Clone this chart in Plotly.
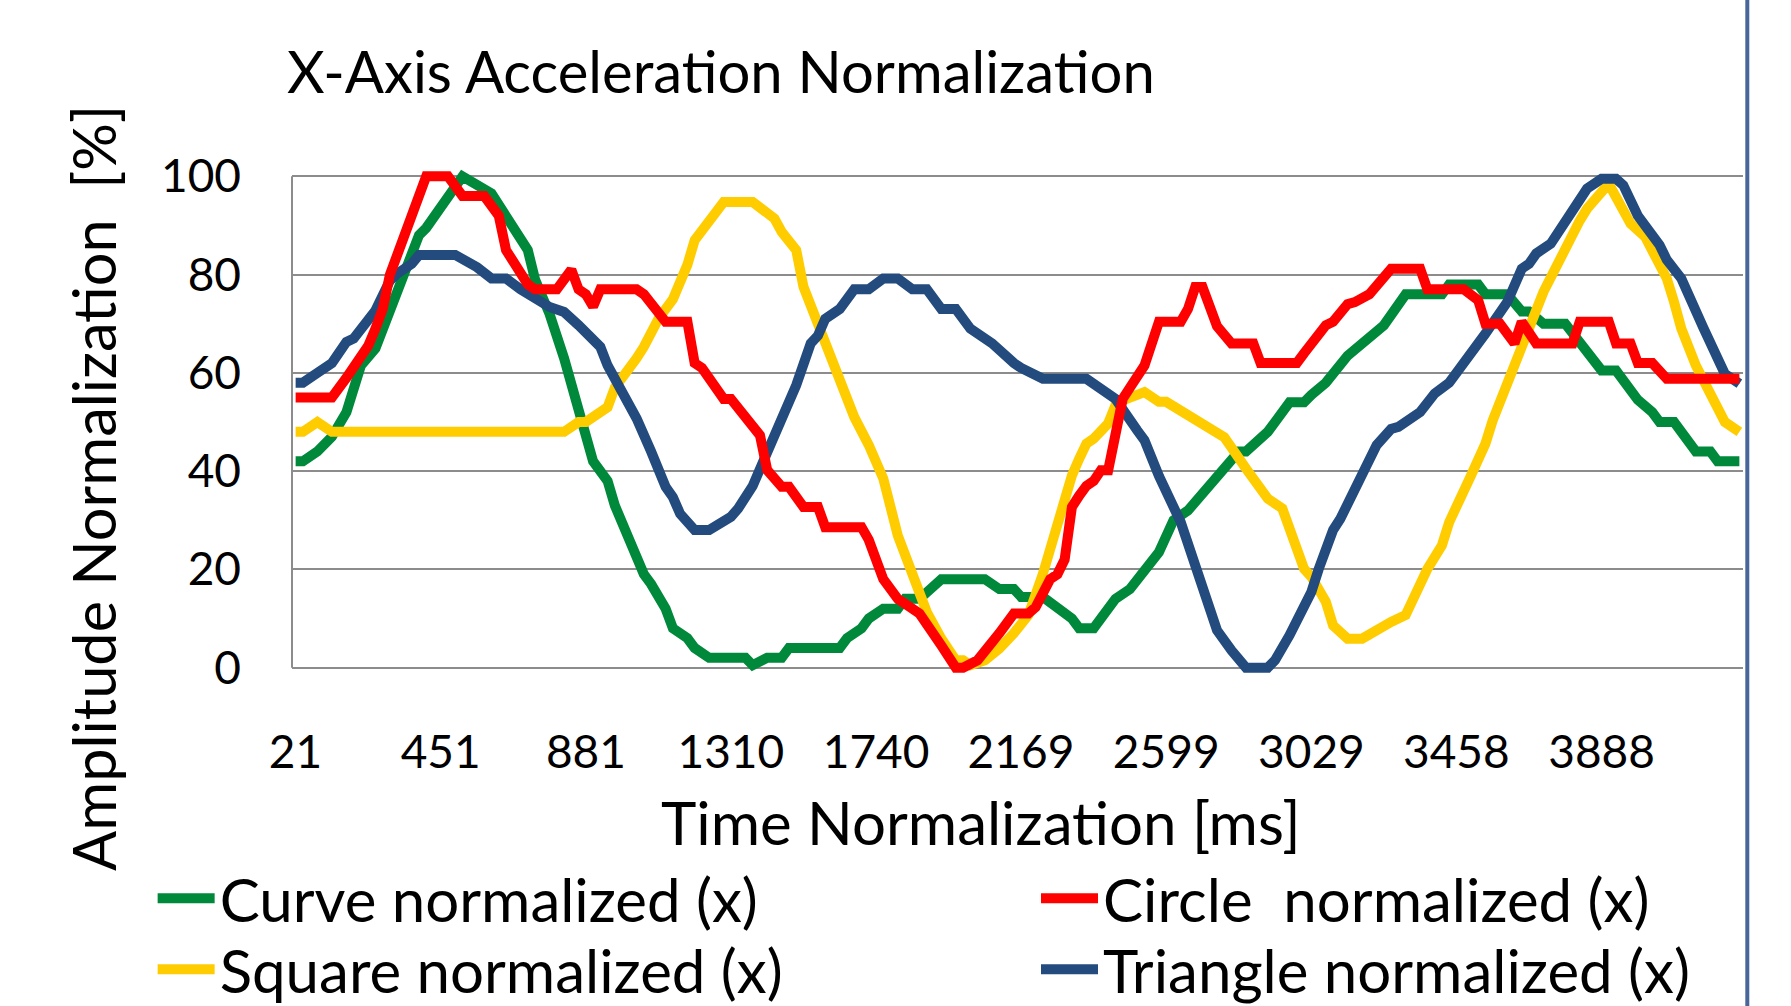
import plotly.graph_objects as go

SAMPLE_MS = 21.48  # sampling period; sample n is at n*SAMPLE_MS ms

X_TICK_LABELS = ["21", "451", "881", "1310", "1740", "2169", "2599", "3029", "3458", "3888"]
Y_TICKS = [0, 20, 40, 60, 80, 100]

# Curve normalized (x): sample index / value [%]
curve_n = [1, 2, 4, 6, 8, 10, 12, 14, 15, 18, 19, 23, 24, 28, 31, 33, 34, 36, 38, 40, 42, 44, 45, 47,
           49, 50, 52, 53, 55, 56, 58, 63, 64, 66, 68, 69, 76, 77, 79, 80, 82, 84, 85, 87, 88, 90, 96,
           98, 100, 101, 104, 108, 109, 111, 114, 116, 120, 122, 124, 128, 131, 132, 134, 135, 138,
           140, 141, 143, 146, 148, 150, 151, 154, 159, 160, 164, 165, 168, 170, 171, 173, 176, 181,
           183, 186, 188, 189, 191, 194, 196, 197, 200]
curve_v = [42, 42, 44, 47, 52, 61.5, 65, 72.5, 75.5, 88, 89.5, 98, 100, 96.5, 90, 85, 79, 72, 63, 52,
           42, 38, 33, 26, 19, 17, 12, 8, 6, 4, 2, 2, 0.5, 2, 2, 4, 4, 6, 8, 10, 12, 12, 14, 14, 15.5,
           18, 18, 16, 16, 14.4, 14.4, 10, 8, 8, 14, 16, 23.5, 30, 32, 39, 44, 44, 46.5, 48, 54, 54,
           55.5, 58, 63.5, 66, 68.5, 69.7, 76, 76, 78, 78, 76, 76, 72.5, 72.5, 70, 70, 60.5, 60.5,
           54.5, 52, 50, 50, 44, 44, 42, 42]

# Circle normalized (x)
circle_n = [1, 6, 8, 9, 11, 12, 13, 14, 15, 19, 22, 24, 27, 29, 30, 33, 34, 37, 39, 40, 41, 42, 43,
            48, 49, 52, 55, 56, 57, 60, 61, 63, 64, 65, 66, 67, 68, 69, 71, 73, 74, 79, 80, 82, 84,
            86, 87, 90, 92, 93, 95, 98, 100, 102, 103, 105, 106, 107, 108, 109, 110, 111, 112, 113,
            115, 116, 118, 120, 123, 124, 125, 126, 127, 128, 130, 133, 134, 139, 140, 143, 144, 146,
            147, 149, 152, 156, 157, 162, 164, 165, 167, 169, 170, 172, 177, 178, 182, 183, 185, 186,
            188, 190, 200]
circle_v = [55, 55, 59, 61.5, 65.5, 69, 73, 80, 84, 100, 100, 96, 96, 92, 85, 78, 77, 77, 81, 77, 76,
            73.5, 77, 77, 76, 70.4, 70.4, 62, 61, 54.7, 54.7, 50.7, 49.3, 47.3, 40.2, 38.8, 36.8, 36.8,
            32.7, 32.7, 28.6, 28.6, 26, 18, 14, 12, 11, 4.5, 0, 0, 1.5, 7, 11, 11, 12.3, 18, 19, 22,
            32.7, 35, 37, 38, 40.2, 40.2, 54.7, 57, 61.5, 70.4, 70.4, 73, 77.5, 77.5, 74, 69.5, 66,
            66, 62, 62, 64, 69.7, 70.4, 74, 74.4, 76, 81.2, 81.2, 77, 77, 74.8, 70, 70, 66, 70.4, 66,
            66, 70.4, 70.4, 66, 66, 62, 62, 58.8, 58.8]

# Square normalized (x)
square_n = [1, 2, 4, 6, 38, 40, 41, 43, 44, 45, 47, 48, 49, 50, 51, 53, 55, 56, 60, 64, 67, 68, 70,
            71, 74, 76, 78, 80, 82, 84, 86, 88, 90, 91, 92, 93, 94, 96, 98, 100, 101, 102, 104, 106,
            108, 109, 110, 111, 113, 114, 115, 118, 120, 121, 124, 125, 129, 132, 135, 137, 139, 140,
            141, 143, 144, 146, 148, 150, 152, 154, 155, 157, 159, 160, 163, 164, 165, 166, 172, 173,
            178, 179, 182, 183, 185, 187, 190, 191, 192, 194, 198, 200]
square_v = [48, 48, 50, 48, 48, 50, 50, 52, 53, 57, 60.5, 63, 65.3, 68.5, 71, 75, 82, 87, 94.8, 94.8,
            91.4, 88.7, 85, 77.5, 66.3, 58.8, 51, 45.3, 38.5, 26.9, 18.5, 11.3, 5.9, 3.5, 1.5, 1.5,
            0.5, 1.5, 3.9, 7, 9, 10.7, 19.1, 29.6, 39.1, 42.5, 45.6, 46.6, 49.7, 53.4, 54.4, 56.1,
            54.1, 54.1, 51.4, 50.7, 46.9, 40.5, 34.4, 32.4, 24.2, 20.1, 18.5, 13.4, 8.6, 5.9, 5.9,
            7.9, 9.3, 10.7, 14, 20.1, 24.9, 29.6, 39.1, 42.5, 45.6, 50.3, 73.7, 76.5, 91, 93.4, 98.5,
            95.5, 90.4, 87.7, 79.2, 74.4, 69, 61.5, 50, 48]

# Triangle normalized (x)
triangle_n = [1, 2, 4, 6, 8, 9, 12, 13, 14, 15, 17, 18, 23, 26, 28, 30, 32, 36, 38, 40, 41, 43, 44,
              46, 48, 50, 51, 52, 53, 54, 56, 58, 61, 62, 64, 67, 68, 70, 72, 73, 74, 76, 78, 80, 82,
              84, 86, 88, 90, 92, 94, 96, 97, 100, 101, 104, 110, 114, 116, 117, 118, 120, 123, 124,
              126, 128, 130, 131, 132, 135, 136, 138, 141, 142, 144, 145, 150, 152, 153, 156, 158,
              160, 163, 165, 168, 170, 171, 172, 174, 179, 181, 183, 184, 186, 189, 190, 192, 194,
              195, 198, 200]
triangle_v = [58, 58, 60, 62, 66.3, 67, 72.7, 75.4, 78.8, 80.2, 82.2, 84, 84, 81.5, 79.2, 79.2, 77,
              73.4, 72.4, 69.7, 68, 65.3, 61.5, 56, 50.7, 44, 40, 36.8, 34.7, 31.3, 28, 28, 30.7,
              32.4, 37, 47.6, 51.7, 57.5, 66, 67.6, 71, 73, 77, 77, 79.2, 79.2, 77, 77, 73, 73, 69,
              67, 66, 62, 61, 58.8, 58.8, 54.7, 50, 48.3, 46.3, 39, 29.6, 25, 16, 7.6, 3.5, 2, 0, 0,
              1.5, 6.6, 15.4, 20, 28, 30.3, 45.3, 48.6, 49, 52, 55.8, 58, 63.6, 68, 74.4, 81.2, 82.2,
              84.3, 86.3, 97.5, 99.5, 99.5, 98.2, 92, 86, 83, 79.2, 71.7, 69.3, 59.8, 57.8]

FONT = "Lato"
W, H = 1791, 1006
L, R, T, B = 292.3, 48.3, 168.6, 331.3
PW = W - L - R
PH = H - T - B


def px_x(x):
    return (x - L) / PW


def px_y(y):
    return (H - B - y) / PH


# (name, indices, values, colour, legend id, legend left px, legend row centre px)
SERIES = [
    ("Curve normalized (x)", curve_n, curve_v, "#00893B", "legend", 153, 898),
    ("Circle  normalized (x)", circle_n, circle_v, "#FF0000", "legend2", 1036, 898),
    ("Square normalized (x)", square_n, square_v, "#FFCC00", "legend3", 153, 969),
    ("Triangle normalized (x)", triangle_n, triangle_v, "#234B7E", "legend4", 1036, 969),
]

fig = go.Figure()
for k in [0, 2, 3, 1]:
    name, n, v, color, leg, _, _ = SERIES[k]
    fig.add_trace(go.Scatter(
        x=[i * SAMPLE_MS for i in n], y=v, name=name, mode="lines",
        line=dict(color=color, width=10), legend=leg,
    ))

legends = {}
for name, n, v, color, leg, lx, ly in SERIES:
    legends[leg] = dict(
        x=px_x(lx), y=px_y(ly), xanchor="left", yanchor="middle",
        orientation="v", font=dict(size=60, family=FONT), itemwidth=57,
        bgcolor="rgba(0,0,0,0)",
    )

fig.update_layout(
    width=W, height=H,
    margin=dict(l=L, r=R, t=T, b=B, autoexpand=False),
    paper_bgcolor="white", plot_bgcolor="white",
    font=dict(family=FONT, color="black"),
    showlegend=True,
    xaxis=dict(
        range=[0.5 * SAMPLE_MS, 200.5 * SAMPLE_MS],
        tickmode="array", tickvals=[float(s) for s in X_TICK_LABELS], ticktext=X_TICK_LABELS,
        showgrid=False, zeroline=False, showline=False, ticks="",
        tickfont=dict(size=46, family=FONT), ticklabelstandoff=46,
    ),
    yaxis=dict(
        range=[-1.5, 101.5], tickmode="array", tickvals=Y_TICKS,
        showgrid=True, gridcolor="#8c8c8c", gridwidth=2,
        zeroline=False, showline=False, ticks="",
        tickfont=dict(size=46, family=FONT), ticklabelstandoff=50,
    ),
    annotations=[
        dict(text="X-Axis Acceleration Normalization", xref="paper", yref="paper",
             x=px_x(285), y=px_y(70), xanchor="left", yanchor="middle",
             showarrow=False, font=dict(size=58, family=FONT)),
        dict(text="Time Normalization [ms]", xref="paper", yref="paper",
             x=px_x(981), y=px_y(822), xanchor="center", yanchor="middle",
             showarrow=False, font=dict(size=60, family=FONT)),
        dict(text="Amplitude Normalization  [%]", xref="paper", yref="paper",
             x=px_x(94), y=px_y(488), xanchor="center", yanchor="middle", textangle=-90,
             showarrow=False, font=dict(size=59.5, family=FONT)),
    ],
    shapes=[
        dict(type="line", xref="x domain", yref="y", x0=0, x1=0, y0=0, y1=100,
             line=dict(color="#8c8c8c", width=2)),
        dict(type="line", xref="paper", yref="paper", x0=px_x(1747), x1=px_x(1747),
             y0=-2, y1=3, line=dict(color="#48669A", width=4)),
    ],
    **legends,
)

fig.write_html(
    "out.html",
    config={"displayModeBar": False},
    post_script="document.body.style.margin='0';document.body.style.padding='0';"
                "document.body.style.overflow='hidden';",
)
